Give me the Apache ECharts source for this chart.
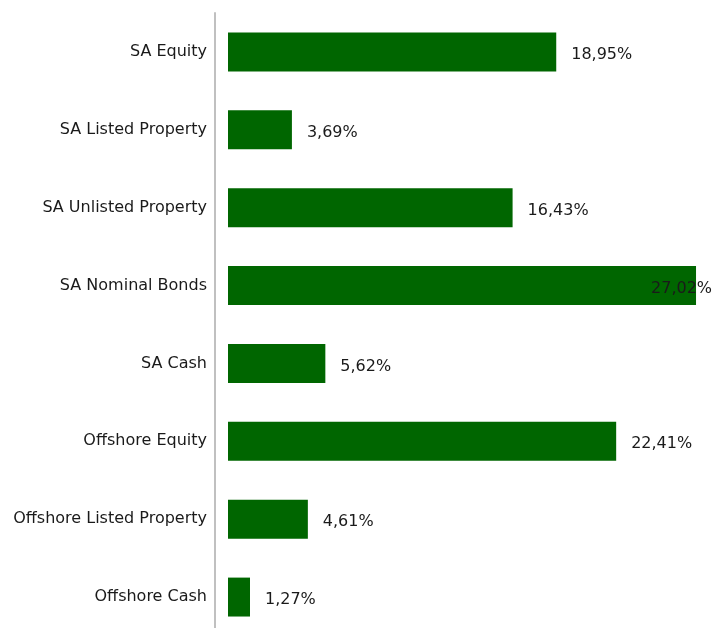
<!DOCTYPE html>
<html>
<head>
<meta charset="utf-8">
<script src="https://cdn.jsdelivr.net/npm/echarts@6/dist/echarts.min.js"></script>
<style>html,body{margin:0;padding:0;background:#fff;overflow:hidden;}#c{width:713px;height:636px;}</style>
</head>
<body>
<div id="c"></div>
<script>
var categories = ["SA Equity", "SA Listed Property", "SA Unlisted Property", "SA Nominal Bonds", "SA Cash", "Offshore Equity", "Offshore Listed Property", "Offshore Cash"];
var values = [18.95, 3.69, 16.43, 27.02, 5.62, 22.41, 4.61, 1.27];

var AXIS_MAX = 28;
var FONT = '"DejaVu Sans", Verdana, sans-serif';
var seriesData = values.map(function (v) {
  if (v > AXIS_MAX - 3) {
    return { value: v, label: { position: 'insideRight', distance: 0, offset: [16, 3] } };
  }
  return v;
});

var chart = echarts.init(document.getElementById('c'));
chart.setOption({
  animation: false,
  textStyle: { fontFamily: FONT },
  grid: { left: 228, right: -1, top: 13, bottom: 0, containLabel: false },
  xAxis: { type: 'value', min: 0, max: AXIS_MAX, show: false },
  yAxis: {
    type: 'category', data: categories, inverse: true, offset: 13,
    axisLine: { show: true, onZero: false, lineStyle: { color: '#c0c0c0', width: 2 } },
    axisTick: { show: false },
    axisLabel: { color: '#1a1a1a', fontSize: 16, margin: 8, fontFamily: FONT, padding: [4, 0, 0, 0] },
    splitLine: { show: false }
  },
  series: [{
    type: 'bar', data: seriesData, barWidth: '50%',
    itemStyle: { color: '#006600' },
    label: {
      show: true, position: 'right', distance: 15, color: '#1a1a1a', fontSize: 16,
      fontFamily: FONT,
      offset: [0, 3],
      formatter: function (p) { return p.value.toFixed(2).replace('.', ',') + '%'; }
    }
  }]
});
</script>
</body>
</html>
